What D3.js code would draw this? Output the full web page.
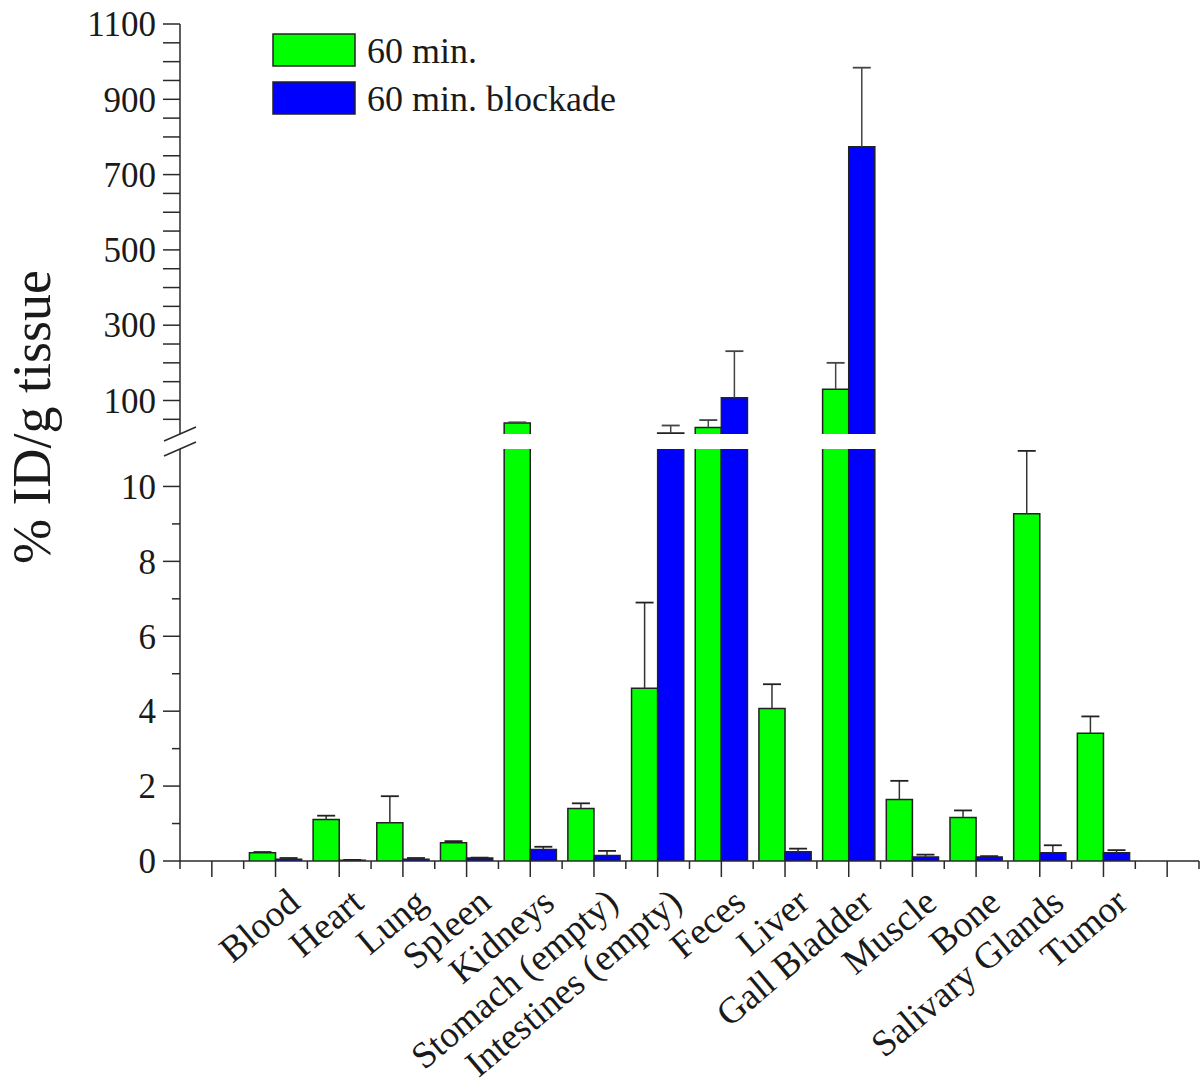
<!DOCTYPE html>
<html><head><meta charset="utf-8">
<script src="https://cdn.jsdelivr.net/npm/d3@7"></script>
<style>
body{margin:0;background:#fff}
svg{display:block}
text{font-family:"Liberation Serif","Times New Roman",serif;fill:#1a1a1a}
</style>
</head><body>
<svg id="c" width="1200" height="1091"></svg>
<script>
const categories = ["Blood","Heart","Lung","Spleen","Kidneys","Stomach (empty)","Intestines (empty)","Feces","Liver","Gall Bladder","Muscle","Bone","Salivary Glands","Tumor"];
const seriesNames = ["60 min.", "60 min. blockade"];
const seriesColors = ["#00ff00", "#0000ff"];
const green    = [0.22, 1.11, 1.02, 0.49, 40, 1.40, 4.61, 28, 4.07, 130, 1.64, 1.16, 9.27, 3.41];
const greenErr = [0.02, 0.10, 0.71, 0.04, 2, 0.14, 2.29, 20, 0.65, 70, 0.50, 0.19, 1.68, 0.45];
const blue     = [0.05, 0.02, 0.05, 0.08, 0.31, 0.15, 13.6, 107, 0.25, 774, 0.11, 0.11, 0.22, 0.22];
const blueErr  = [0.03, 0.01, 0.03, 0.01, 0.07, 0.12, 20, 124, 0.08, 210, 0.06, 0.02, 0.20, 0.07];
const lowTicks = [0,1,2,3,4,5,6,7,8,9,10];
const lowLabels = [0,2,4,6,8,10];
const highTicks = [50,100,150,200,250,300,350,400,450,500,550,600,650,700,750,800,850,900,950,1000,1050,1100];
const highLabels = [100,300,500,700,900,1100];
const breakValue = 11;
const yTitle = "% ID/g tissue";

const svg = d3.select("#c");
const axisColor = "#2a2a2a";
const nSlots = categories.length + 2;
const x = d3.scaleBand().domain(d3.range(nSlots)).range([180, 1199]).padding(0);
const cx = i => x(i) + x.bandwidth()/2;
const yLow = d3.scaleLinear().domain([0, breakValue]).range([861, 449]);
const yHigh = d3.scaleLinear().domain([breakValue, 1100]).range([434, 24]);
const bw = x.bandwidth()*0.41;

const series = [
  {vals: green, errs: greenErr, color: seriesColors[0], off: -1},
  {vals: blue, errs: blueErr, color: seriesColors[1], off: 0}
];

const g = svg.append("g");
// bars
series.forEach(s => {
  s.vals.forEach((v, i) => {
    const xc = cx(i+1);
    const x0 = xc + s.off*bw, x1 = x0 + bw;
    const vl = Math.min(v, breakValue);
    const yt = yLow(vl), yb = yLow(0);
    g.append("rect").attr("x", x0).attr("y", yt).attr("width", bw).attr("height", yb-yt).attr("fill", s.color);
    const clipped = v > breakValue;
    const pl = clipped
      ? `M${x0},${yt}V${yb}M${x1},${yt}V${yb}`
      : `M${x0},${yb}V${yt}H${x1}V${yb}`;
    g.append("path").attr("d", pl).attr("fill","none").attr("stroke","#222").attr("stroke-width",1.5);
    if (clipped) {
      const ht = yHigh(v), hb = yHigh(breakValue);
      g.append("rect").attr("x", x0).attr("y", ht).attr("width", bw).attr("height", hb-ht).attr("fill", s.color);
      g.append("path").attr("d", `M${x0},${hb}V${ht}H${x1}V${hb}`).attr("fill","none").attr("stroke","#222").attr("stroke-width",1.5);
    }
  });
});
// error bars
series.forEach(s => {
  s.vals.forEach((v, i) => {
    const e = s.errs[i];
    const xm = cx(i+1) + s.off*bw + bw/2;
    const top = v + e;
    const cap = 9;
    if (v < breakValue) {
      const a = yLow(v), b = yLow(Math.min(top, breakValue));
      g.append("line").attr("x1",xm).attr("x2",xm).attr("y1",a).attr("y2",b).attr("stroke","#333").attr("stroke-width",1.5);
    }
    if (top > breakValue) {
      const a = yHigh(Math.max(v, breakValue)), b = yHigh(top);
      g.append("line").attr("x1",xm).attr("x2",xm).attr("y1",a).attr("y2",b).attr("stroke","#444").attr("stroke-width",1.5);
      g.append("line").attr("x1",xm-cap).attr("x2",xm+cap).attr("y1",b).attr("y2",b).attr("stroke","#444").attr("stroke-width",1.8);
    } else {
      const b = yLow(top);
      g.append("line").attr("x1",xm-cap).attr("x2",xm+cap).attr("y1",b).attr("y2",b).attr("stroke","#222").attr("stroke-width",1.8);
    }
  });
});

// x axis
const ax = svg.append("g");
ax.append("line").attr("x1",180).attr("x2",1199).attr("y1",yLow(0)).attr("y2",yLow(0)).attr("stroke",axisColor).attr("stroke-width",1.5);
d3.range(nSlots).forEach(i => {
  ax.append("line").attr("x1",cx(i)).attr("x2",cx(i)).attr("y1",yLow(0)).attr("y2",yLow(0)+16).attr("stroke",axisColor).attr("stroke-width",1.5);
});
d3.range(nSlots+1).forEach(i => {
  const xx = i < nSlots ? x(i) : 1199;
  ax.append("line").attr("x1",xx).attr("x2",xx).attr("y1",yLow(0)).attr("y2",yLow(0)+8).attr("stroke",axisColor).attr("stroke-width",1.5);
});
categories.forEach((c, i) => {
  ax.append("text").attr("transform", `translate(${cx(i+1)+18},896) rotate(-40)`)
    .attr("text-anchor","end").attr("dy","0.35em").style("font-size","37px").text(c);
});

// y axis lower
const ay = svg.append("g");
ay.append("line").attr("x1",180).attr("x2",180).attr("y1",yLow(0)).attr("y2",yLow(breakValue)).attr("stroke",axisColor).attr("stroke-width",1.5);
lowTicks.forEach(t => {
  const major = lowLabels.includes(t);
  ay.append("line").attr("x1",180-(major?17:8)).attr("x2",180).attr("y1",yLow(t)).attr("y2",yLow(t)).attr("stroke",axisColor).attr("stroke-width",1.5);
});
lowLabels.forEach(t => {
  ay.append("text").attr("x",156).attr("y",yLow(t)).attr("dy","0.35em").attr("text-anchor","end").style("font-size","35px").text(t);
});
// y axis upper
ay.append("line").attr("x1",180).attr("x2",180).attr("y1",yHigh(breakValue)).attr("y2",yHigh(1100)).attr("stroke",axisColor).attr("stroke-width",1.5);
highTicks.forEach(t => {
  ay.append("line").attr("x1",163).attr("x2",180).attr("y1",yHigh(t)).attr("y2",yHigh(t)).attr("stroke",axisColor).attr("stroke-width",1.5);
});
highLabels.forEach(t => {
  ay.append("text").attr("x",156).attr("y",yHigh(t)).attr("dy","0.35em").attr("text-anchor","end").style("font-size","35px").text(t);
});
// break marks
[yHigh(breakValue), yLow(breakValue)].forEach(yy => {
  ay.append("line").attr("x1",164).attr("x2",196).attr("y1",yy+7).attr("y2",yy-7).attr("stroke",axisColor).attr("stroke-width",1.5);
});
// y title
svg.append("text").attr("transform","translate(50,417) rotate(-90)").attr("text-anchor","middle")
  .style("font-size","54px").text(yTitle);

// legend
const lg = svg.append("g");
seriesNames.forEach((n, i) => {
  const yy = 34 + i*48;
  lg.append("rect").attr("x",273).attr("y",yy).attr("width",82).attr("height",32).attr("fill",seriesColors[i]).attr("stroke","#222").attr("stroke-width",1.5);
  lg.append("text").attr("x",367).attr("y",yy+16).attr("dy","0.35em").style("font-size","36px").text(n);
});
</script>
</body></html>
